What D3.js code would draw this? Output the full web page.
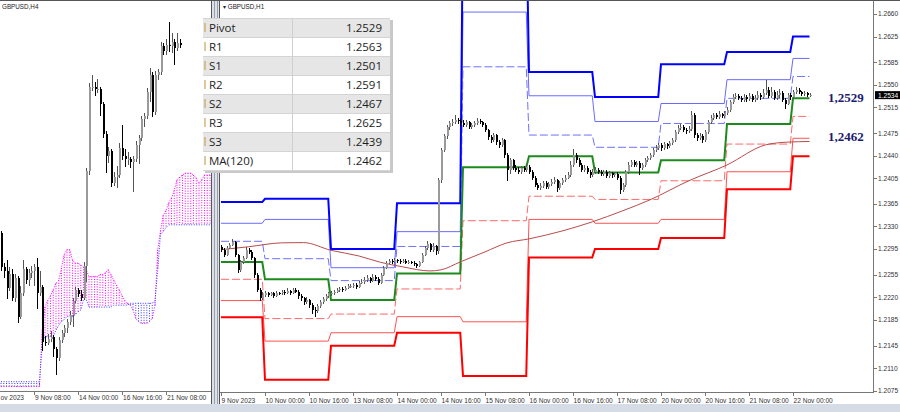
<!DOCTYPE html>
<html><head><meta charset="utf-8">
<script src="https://cdnjs.cloudflare.com/ajax/libs/d3/7.8.5/d3.min.js"></script>
<style>html,body{margin:0;padding:0;background:#fff;}svg{display:block;}</style>
</head><body>
<svg id="c" width="900" height="412"></svg>
<script>
// ---------- DATA (prices in pips above 1.2000) ----------
const PRICE_BASE = 1.2, PIP = 0.0001;

// H1 candles, 9 Nov 08:00 -> 22 Nov 06:00 (open = previous close)
const h1FirstOpen = 298;
const h1Close = [294,286,297,302,306,286,263,275,281,294,291,281,255,232,219,224,
227,224,226,222,227,226,229,227,230,227,232,229,222,219,213,216,208,201,198,207,213,218,222,226,
226,229,232,233,232,235,238,238,239,236,243,244,247,250,246,252,249,243,255,266,274,277,275,278,
277,275,277,274,275,274,272,269,275,286,297,303,294,300,292,402,449,470,484,490,493,496,494,490,
488,492,485,488,491,494,492,488,480,469,464,472,461,457,464,441,418,433,421,418,415,421,418,423,
415,406,395,390,393,398,392,396,399,402,390,398,402,406,410,426,441,433,426,418,421,415,410,415,
418,415,412,415,409,413,410,412,406,387,395,415,426,430,426,429,421,426,433,437,441,449,452,457,
452,458,455,460,464,477,483,485,480,478,482,503,472,468,471,464,477,492,499,503,500,505,502,506,
511,523,531,533,530,527,531,528,533,527,530,534,531,537,542,533,539,530,534,537,527,520,534,531,
539,542,539,536,537,534,534];
const h1High = [302,296,300,305,311,308,288,278,284,298,297,293,283,258,235,228,
230,229,229,228,230,229,232,231,234,232,235,234,231,225,221,220,218,211,205,210,216,221,225,229,
230,232,235,236,236,238,241,241,243,242,246,248,251,254,252,256,254,251,258,269,277,280,279,281,
280,279,280,279,278,277,276,274,277,289,300,307,305,304,302,405,452,474,488,494,497,503,499,497,
495,495,494,491,494,498,497,494,490,482,472,475,474,464,468,466,444,437,435,425,422,424,424,427,
425,417,408,397,397,401,400,399,403,407,404,401,406,410,414,432,450,444,436,429,425,424,418,419,
422,421,418,418,417,416,415,415,414,408,398,418,430,434,433,432,431,429,436,440,444,452,456,460,
459,461,460,463,468,480,487,489,488,483,486,510,506,475,475,473,480,495,503,507,506,509,507,509,
515,527,535,537,536,533,535,534,537,536,534,540,537,544,558,546,547,542,540,544,540,530,537,537,
542,546,545,541,540,539,537];
const h1Low = [290,282,284,295,299,283,258,260,272,279,287,278,250,228,214,216,
221,220,222,219,220,223,224,224,225,223,225,226,218,214,208,209,203,194,189,195,204,210,215,219,
222,223,227,229,229,230,233,235,235,233,234,240,241,244,243,244,245,239,241,253,264,271,272,273,
274,272,273,271,272,271,269,266,267,273,284,294,290,291,286,288,398,445,466,480,486,489,489,486,
484,485,481,482,485,488,489,484,476,465,460,461,457,452,454,437,400,412,417,414,411,412,414,415,
411,402,391,386,387,390,388,389,393,396,384,386,395,399,403,407,423,429,422,414,415,411,406,407,
412,411,408,409,405,406,406,407,402,380,383,392,412,422,422,423,410,418,423,430,434,438,446,449,
448,449,451,452,457,461,474,480,476,474,475,479,468,463,465,459,461,474,489,496,497,497,499,499,
503,508,520,528,526,523,524,524,525,523,524,527,527,528,534,529,530,526,527,530,523,513,518,527,
528,536,535,532,533,531,531];

// MA(120) read at sample bars
const maBars = [0,10,22,30,40,50,58,66,76,80,87,96,104,112,124,135,146,156,170,184,198,206,214];
const maPips = [294,298.5,304.6,305,293,284.4,274.4,267.4,261,262.7,275,290.6,304.6,310.8,323,337.2,354.3,371.4,400.8,425.6,456.7,461,462];

// Daily pivot levels per session
const sessionStartBar = [0,16,40,64,88,112,136,160,184,208];
const sessionEndBar   = [15,39,63,87,111,135,159,183,207,214];
const lvR3 = [368,373,295,366,819,570,531,582,601,625];
const lvR2 = [335,341,266,322,663,533,493,521,558,591];
const lvR1 = [307,280,246,299,578,472,453,490,529,563];
const lvP  = [275,248,216,257,422,439,414,433,489,529];
const lvS1 = [248,187,194,233,339,377,372,401,458,501];
const lvS2 = [215,152,165,190,182,341,335,341,415,467];
const lvS3 = [189,92,145,165,98,282,295,312,388,439];

// H4 candles before 9 Nov 08:00 (7 Nov 08:00 .. 9 Nov 04:00)
const h4EarlyOpen  = [337,302,298,280,295,270,290,250,275,300,288,296];
const h4EarlyClose = [302,298,280,295,270,290,250,275,300,288,296,298];
const h4EarlyHigh  = [340,306,309,302,300,295,292,282,309,302,300,303];
const h4EarlyLow   = [298,290,268,277,266,265,243,248,272,284,282,290];

// Ichimoku Senkou spans (H4 bars from 7 Nov 08:00, shifted forward)
const spanA = [177,177,177,177,177,177,177,177,177,177,177,177,177,177,177,
236,260,267,272,278,285,288,301,315,320,320,309,306,306,304,302,299,292,292,292,292,294,294,296,299,294,
288,283,278,272,267,264,262,257,248,245,243,243,243,245,248,262,320,340,356,361,369,374,382,393,396,398,400,400,400,398,395,390,393,398,398,398];
const spanB = [182,182,182,182,182,182,182,182,182,182,182,182,182,182,182,
223,229,229,229,229,236,241,245,247,250,250,250,252,255,257,268,268,260,260,260,260,260,260,260,260,260,
262,262,262,262,262,262,264,264,264,264,264,264,264,264,264,267,299,336,339,343,346,346,346,346,346,346,346,346,346,346,346,346,346,346,346,346];

// Axis labels
const h1TickBars = [0,16,32,48,64,80,96,112,128,144,160,176,192,208];
const h1TickLabels = ["9 Nov 2023","10 Nov 00:00","10 Nov 16:00","13 Nov 08:00","14 Nov 00:00","14 Nov 16:00","15 Nov 08:00","16 Nov 00:00","16 Nov 16:00","17 Nov 08:00","20 Nov 00:00","20 Nov 16:00","21 Nov 08:00","22 Nov 00:00"];
const priceTickLabels = ["1.2660","1.2625","1.2585","1.2550","1.2515","1.2475","1.2440","1.2405","1.2365","1.2330","1.2295","1.2255","1.2220","1.2185","1.2145","1.2110","1.2075"];
const h4TickBars = [12,28,44,60];
const h4TickLabels = ["9 Nov 08:00","14 Nov 00:00","16 Nov 16:00","21 Nov 08:00"];
const h4FirstLabel = "ov 2023";   // visible remainder of the first (scrolled-off) date label

const tableNames  = ["Pivot","R1","S1","R2","S2","R3","S3","MA(120)"];
const tableValues = ["1.2529","1.2563","1.2501","1.2591","1.2467","1.2625","1.2439","1.2462"];
const currentPrice = 1.2534;
const noteLabels = ["1,2529","1,2462"];
const noteValues = [1.2529, 1.2462];

// ---------- BUILD ----------
const px = p => PRICE_BASE + p * PIP;
const h1Bars = h1Close.map((c, i) => {
  const o = px(i ? h1Close[i - 1] : h1FirstOpen), cc = px(c);
  return {i, o, c: cc, h: Math.max(px(h1High[i]), o, cc), l: Math.min(px(h1Low[i]), o, cc)};
});
const h4Bars = h4EarlyOpen.map((o, j) => ({i: j, o: px(o), c: px(h4EarlyClose[j]), h: px(h4EarlyHigh[j]), l: px(h4EarlyLow[j])}));
for (let g = 0; g * 4 < h1Bars.length; g++) {
  const s = h1Bars.slice(g * 4, g * 4 + 4);
  h4Bars.push({i: 12 + g, o: s[0].o, c: s[s.length - 1].c, h: d3.max(s, d => d.h), l: d3.min(s, d => d.l)});
}

const svg = d3.select("#c");
const FONT = "'Liberation Sans', Arial, sans-serif";

// scales
const xH1 = d3.scaleLinear().domain([0, 1]).range([221, 223.75]);
const yH1 = d3.scaleLinear().domain([1.2075, 1.2660]).range([390.7, 14]);
const xH4 = d3.scaleLinear().domain([0, 1]).range([1, 3.75]);
const yH4 = d3.scaleLinear().domain([1.2189, 1.2558]).range([375, 22]);

// background
svg.append("rect").attr("width", 900).attr("height", 412).attr("fill", "#fff");
const defs = svg.append("defs");
defs.append("clipPath").attr("id", "clipL").append("rect").attr("x", 0).attr("y", 1).attr("width", 211).attr("height", 390);
defs.append("clipPath").attr("id", "clipR").append("rect").attr("x", 220).attr("y", 1).attr("width", 653).attr("height", 391);

function drawCandles(g, bars, x, y) {
  const cg = g.append("g").attr("shape-rendering", "crispEdges");
  cg.selectAll("line").data(bars).join("line")
    .attr("x1", d => Math.round(x(d.i)) + 0.5).attr("x2", d => Math.round(x(d.i)) + 0.5)
    .attr("y1", d => y(d.h)).attr("y2", d => y(d.l))
    .attr("stroke", d => d.c >= d.o ? "#555" : "#000").attr("stroke-width", 1);
  cg.selectAll("rect").data(bars).join("rect")
    .attr("x", d => Math.round(x(d.i)))
    .attr("width", 2)
    .attr("y", d => y(Math.max(d.o, d.c)))
    .attr("height", d => Math.max(1, Math.abs(y(d.o) - y(d.c))))
    .attr("fill", d => d.c >= d.o ? "#9a9a9a" : "#000");
}

// ---------- LEFT PANEL (H4) ----------
const L = svg.append("g").attr("clip-path", "url(#clipL)");
const cloud = spanA.map((a, j) => ({i: j, a: px(a), b: px(spanB[j])}));
L.append("g").selectAll("line").data(cloud).join("line")
  .attr("x1", d => xH4(d.i)).attr("x2", d => xH4(d.i))
  .attr("y1", d => yH4(d.a)).attr("y2", d => yH4(d.b))
  .attr("stroke", d => d.a >= d.b ? "#ff00ff" : "#3c3cff")
  .attr("stroke-width", 1).attr("stroke-dasharray", "1,1.5");
L.append("path").datum(cloud).attr("fill", "none").attr("stroke", "#ff00ff").attr("stroke-dasharray", "1,1.5")
  .attr("d", d3.line().x(d => xH4(d.i)).y(d => yH4(d.a)));
L.append("path").datum(cloud).attr("fill", "none").attr("stroke", "#3c3cff").attr("stroke-dasharray", "1,1.5")
  .attr("d", d3.line().x(d => xH4(d.i)).y(d => yH4(d.b)));
drawCandles(L, h4Bars, xH4, yH4);

svg.append("line").attr("x1", 0).attr("x2", 211).attr("y1", 391.5).attr("y2", 391.5).attr("stroke", "#777");
svg.append("g").selectAll("line").data(h4TickBars).join("line")
  .attr("x1", d => Math.round(xH4(d)) + 0.5).attr("x2", d => Math.round(xH4(d)) + 0.5)
  .attr("y1", 392).attr("y2", 395).attr("stroke", "#777");
svg.append("g").selectAll("text").data(h4TickBars).join("text")
  .attr("x", d => xH4(d) + 1).attr("y", 400)
  .attr("font-family", FONT).attr("font-size", 6.6).attr("fill", "#333")
  .text((d, j) => h4TickLabels[j]);
svg.append("text").attr("x", 0.5).attr("y", 400).attr("font-family", FONT).attr("font-size", 6.6).attr("fill", "#333").text(h4FirstLabel);
svg.append("text").attr("x", 2).attr("y", 8.5).attr("font-family", FONT).attr("font-size", 6.3).attr("fill", "#222").text("GBPUSD,H4");

// ---------- RIGHT PANEL (H1) ----------
const R = svg.append("g").attr("clip-path", "url(#clipR)");
function levelPts(arr) {
  const pts = [];
  arr.forEach((v, d) => { pts.push({i: sessionStartBar[d], v: px(v)}); pts.push({i: sessionEndBar[d], v: px(v)}); });
  return pts;
}
const lvLine = d3.line().x(d => xH1(d.i)).y(d => yH1(d.v));
const levels = [
  {a: lvS2, c: "#ff5252", w: 1, dash: null},
  {a: lvS1, c: "#ff6a6a", w: 1, dash: "8,3"},
  {a: lvR2, c: "#6a6aff", w: 1, dash: null},
  {a: lvR1, c: "#7070ff", w: 1, dash: "8,3"},
  {a: lvS3, c: "#ff0000", w: 2, dash: null},
  {a: lvR3, c: "#0000ff", w: 2, dash: null},
  {a: lvP,  c: "#1d8a1d", w: 2, dash: null}
];
levels.forEach(L2 => {
  R.append("path").datum(levelPts(L2.a)).attr("fill", "none").attr("stroke", L2.c)
    .attr("stroke-width", L2.w).attr("stroke-dasharray", L2.dash).attr("d", lvLine);
});
const maPts = maBars.map((b, j) => ({i: b, v: px(maPips[j])}));
R.append("path").datum(maPts).attr("fill", "none").attr("stroke", "#b94b4b").attr("stroke-width", 1)
  .attr("d", d3.line().x(d => xH1(d.i)).y(d => yH1(d.v)).curve(d3.curveMonotoneX));
drawCandles(R, h1Bars, xH1, yH1);

// right axes
svg.append("line").attr("x1", 220).attr("x2", 873.5).attr("y1", 392.5).attr("y2", 392.5).attr("stroke", "#777");
svg.append("line").attr("x1", 873.5).attr("x2", 873.5).attr("y1", 0).attr("y2", 393).attr("stroke", "#777");
svg.append("g").selectAll("line").data(h1TickBars).join("line")
  .attr("x1", d => Math.round(xH1(d)) + 0.5).attr("x2", d => Math.round(xH1(d)) + 0.5)
  .attr("y1", 393).attr("y2", 396).attr("stroke", "#777");
svg.append("g").selectAll("text").data(h1TickBars).join("text")
  .attr("x", d => xH1(d) + 0.5).attr("y", 402.5)
  .attr("font-family", FONT).attr("font-size", 6.6).attr("fill", "#333")
  .text((d, j) => h1TickLabels[j]);
svg.append("g").selectAll("line").data(priceTickLabels).join("line")
  .attr("x1", 874).attr("x2", 877).attr("y1", d => Math.round(yH1(+d)) + 0.5).attr("y2", d => Math.round(yH1(+d)) + 0.5)
  .attr("stroke", "#777");
svg.append("g").selectAll("text").data(priceTickLabels).join("text")
  .attr("x", 878).attr("y", d => yH1(+d) + 2.4)
  .attr("font-family", FONT).attr("font-size", 6.6).attr("fill", "#333").text(d => d);
svg.append("rect").attr("x", 875).attr("y", yH1(currentPrice) - 4).attr("width", 25).attr("height", 8).attr("fill", "#000");
svg.append("text").attr("x", 878).attr("y", yH1(currentPrice) + 2.4).attr("font-family", FONT).attr("font-size", 6.6)
  .attr("fill", "#fff").text(currentPrice.toFixed(4));
svg.append("text").attr("x", 223).attr("y", 8.5).attr("font-family", FONT).attr("font-size", 6.3).attr("fill", "#222").text("\u25BE GBPUSD,H1");

// notes
const noteDy = [-1.3, -4.8];
svg.append("g").selectAll("text").data(noteValues).join("text")
  .attr("x", 828).attr("y", (d, j) => yH1(d) + noteDy[j] + 4.5)
  .attr("font-family", "'Liberation Serif', 'Times New Roman', serif").attr("font-weight", "bold")
  .attr("font-size", 13).attr("fill", "#1b1b6e").text((d, j) => noteLabels[j]);

// frame / separators
svg.append("rect").attr("x", 212).attr("y", 0).attr("width", 8).attr("height", 412).attr("fill", "#dde2ea");
svg.append("line").attr("x1", 211.5).attr("x2", 211.5).attr("y1", 0).attr("y2", 405).attr("stroke", "#555");
svg.append("line").attr("x1", 214.5).attr("x2", 214.5).attr("y1", 0).attr("y2", 405).attr("stroke", "#9aa0aa");
svg.append("line").attr("x1", 217.5).attr("x2", 217.5).attr("y1", 0).attr("y2", 405).attr("stroke", "#9aa0aa");
svg.append("line").attr("x1", 219.5).attr("x2", 219.5).attr("y1", 0).attr("y2", 405).attr("stroke", "#555");
svg.append("rect").attr("x", 0).attr("y", 404).attr("width", 900).attr("height", 8).attr("fill", "#d6dce6");
svg.append("line").attr("x1", 0).attr("x2", 900).attr("y1", 0.5).attr("y2", 0.5).attr("stroke", "#555");

// ---------- TABLE ----------
const T = svg.append("g");
const tx0 = 203, tx1 = 390, ty0 = 18, rowH = 19, colX = 292;
T.append("rect").attr("x", tx0 + 2).attr("y", ty0 + 2).attr("width", tx1 - tx0 + 1).attr("height", rowH * 8 + 1).attr("fill", "#c9c9c9");
T.selectAll(".row").data(tableNames).join("rect")
  .attr("x", tx0).attr("y", (d, j) => ty0 + j * rowH).attr("width", tx1 - tx0).attr("height", rowH)
  .attr("fill", (d, j) => j % 2 === 0 ? "#e6e6e6" : "#ffffff");
T.selectAll(".sep").data(d3.range(9)).join("line")
  .attr("x1", tx0).attr("x2", tx1).attr("y1", j => ty0 + j * rowH + 0.5).attr("y2", j => ty0 + j * rowH + 0.5)
  .attr("stroke", "#d4d4d4");
T.append("line").attr("x1", colX + 0.5).attr("x2", colX + 0.5).attr("y1", ty0).attr("y2", ty0 + rowH * 8).attr("stroke", "#cfcfcf");
T.selectAll(".mk").data(tableNames).join("line")
  .attr("x1", tx0 + 2).attr("x2", tx0 + 2).attr("y1", (d, j) => ty0 + j * rowH + 5).attr("y2", (d, j) => ty0 + j * rowH + 14)
  .attr("stroke", "#c9a25e").attr("stroke-width", 1.2);
T.selectAll(".nm").data(tableNames).join("text")
  .attr("x", tx0 + 6).attr("y", (d, j) => ty0 + j * rowH + 13.5)
  .attr("font-family", "'Open Sans', sans-serif").attr("font-size", 11.5).attr("fill", "#1e1e1e").text(d => d);
T.selectAll(".vl").data(tableValues).join("text")
  .attr("x", 382).attr("y", (d, j) => ty0 + j * rowH + 13.5).attr("text-anchor", "end")
  .attr("font-family", "'Open Sans', sans-serif").attr("font-size", 11.5).attr("fill", "#1e1e1e").text(d => d);
</script>
</body></html>
